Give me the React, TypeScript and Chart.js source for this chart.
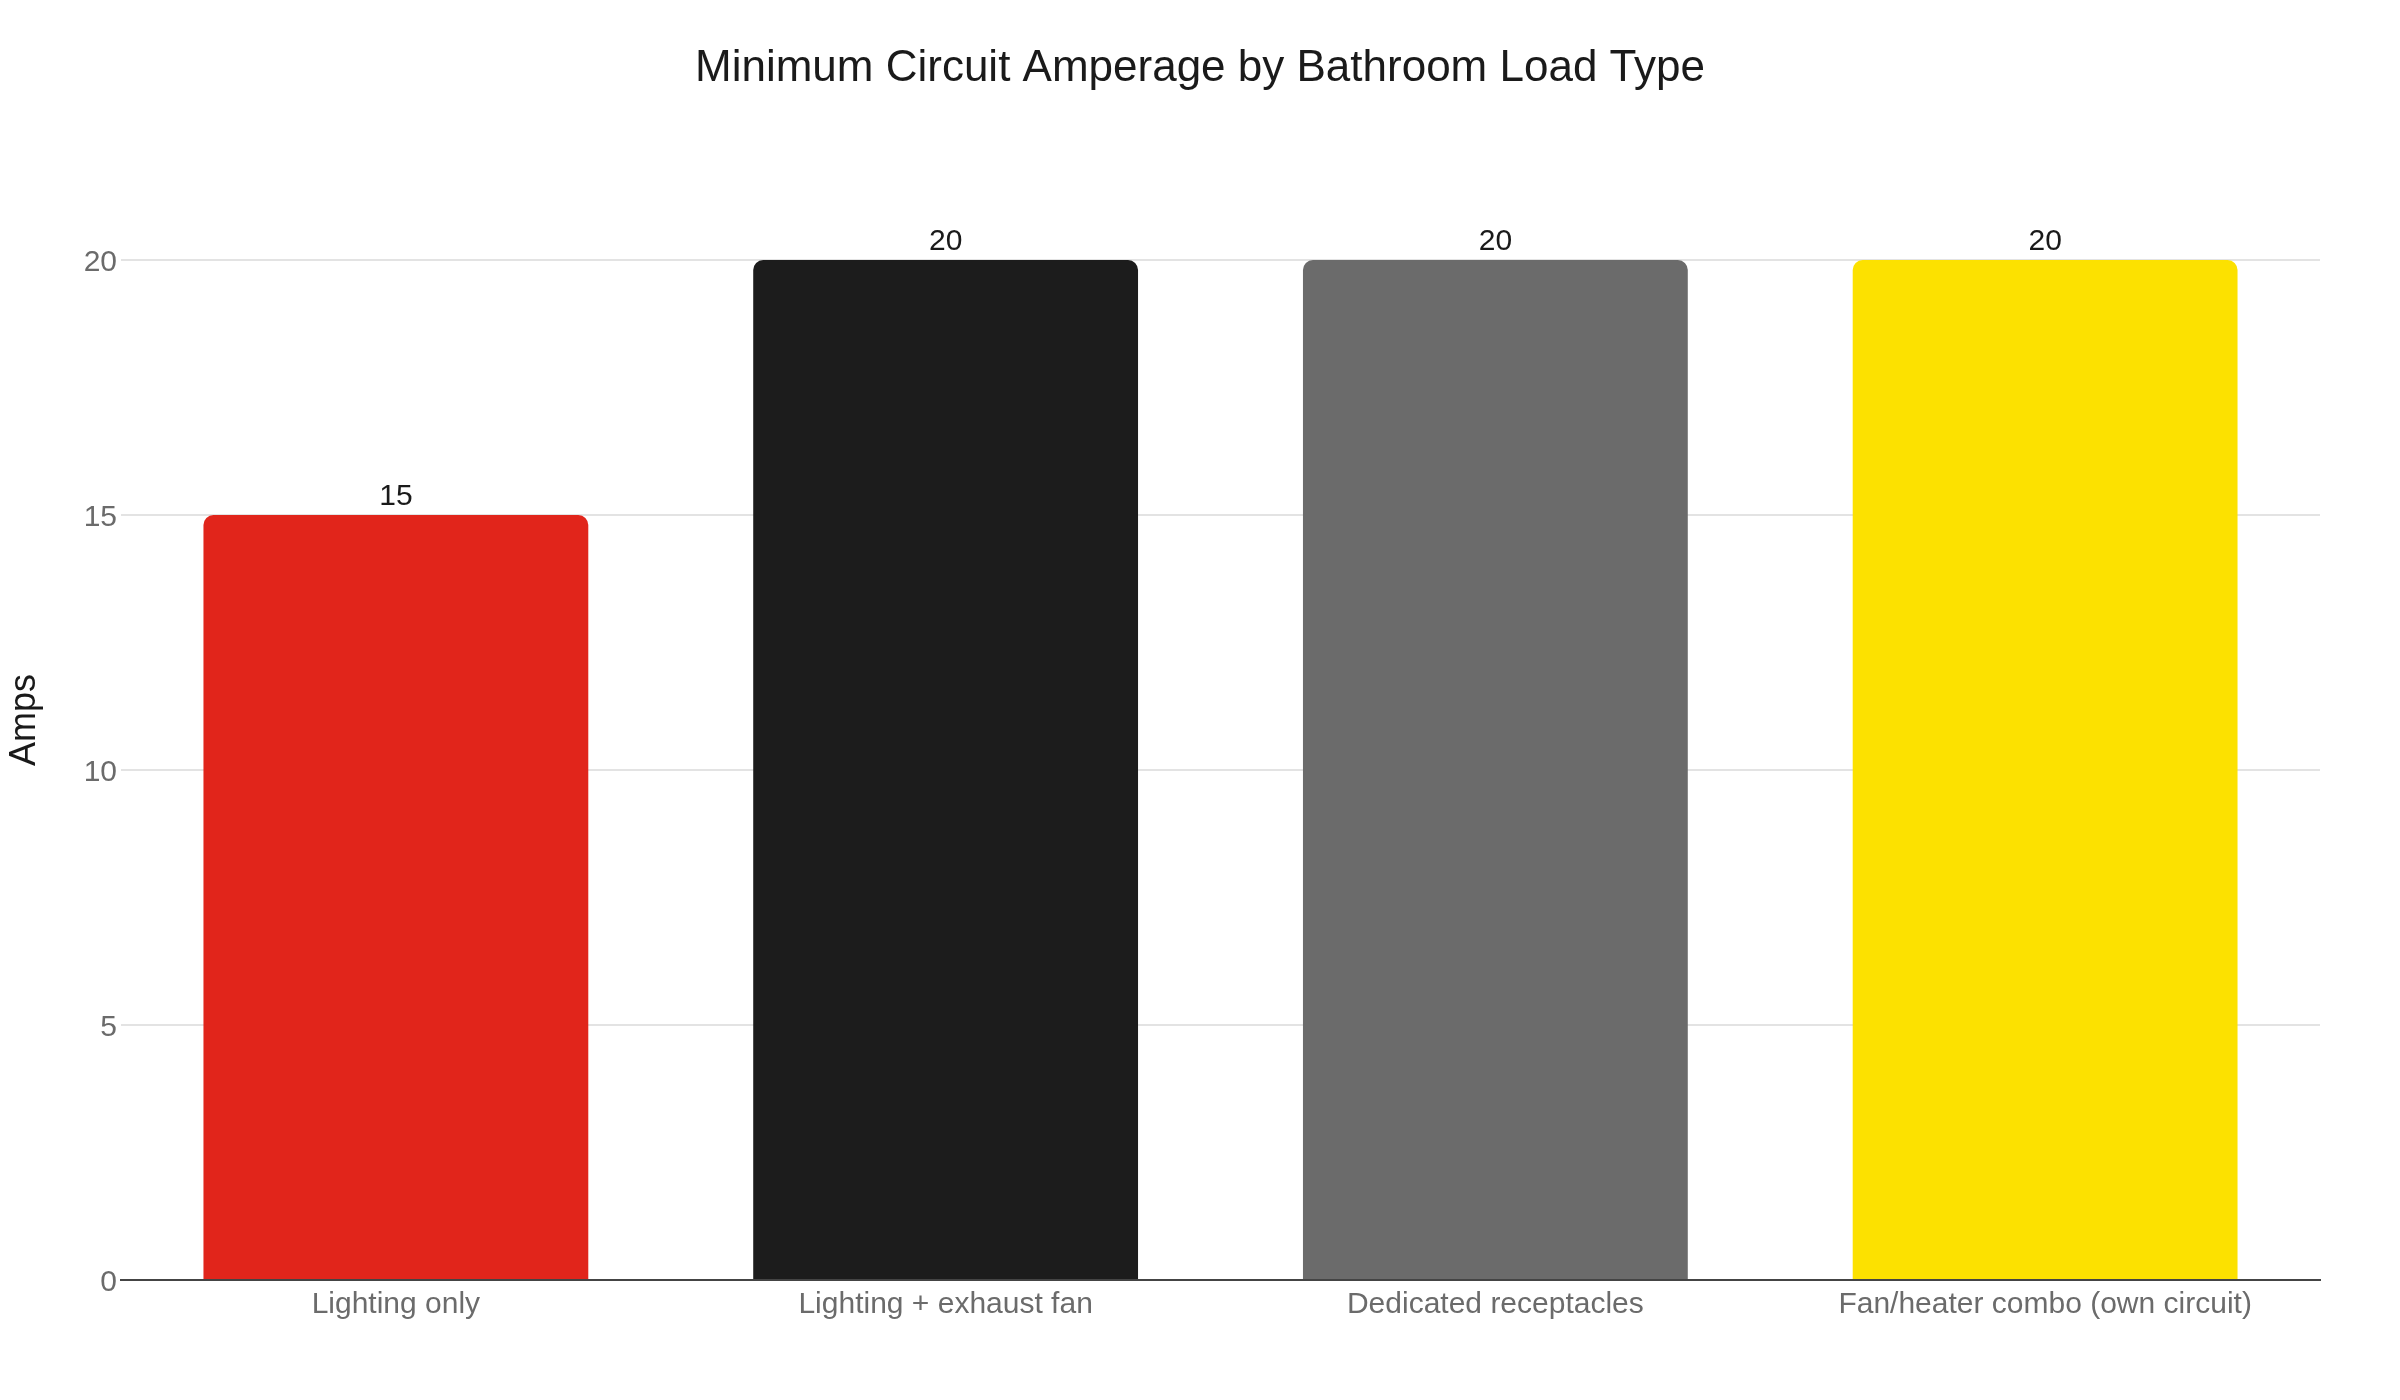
import React, { useEffect, useRef } from "react";
import { Chart, registerables } from "chart.js";

Chart.register(...registerables);

const categories = [
  "Lighting only",
  "Lighting + exhaust fan",
  "Dedicated receptacles",
  "Fan/heater combo (own circuit)",
];
const amps = [15, 20, 20, 20];
const barColors = ["#e1251b", "#1c1c1c", "#6b6b6b", "#fce100"];

const FONT = "'Liberation Sans', Arial, Helvetica, sans-serif";
const TITLE = "Minimum Circuit Amperage by Bathroom Load Type";
const Y_TITLE = "Amps";

// draws the value labels above the bars, the chart title and the y axis title
const textPlugin = {
  id: "textPlugin",
  afterDatasetsDraw(chart: Chart) {
    const { ctx } = chart;
    const meta = chart.getDatasetMeta(0);
    ctx.save();
    ctx.fillStyle = "#1a1a1a";
    ctx.textAlign = "center";
    ctx.textBaseline = "alphabetic";

    ctx.font = `30px ${FONT}`;
    meta.data.forEach((bar: any, i: number) => {
      ctx.fillText(String(amps[i]), bar.x, bar.y - 10);
    });

    ctx.font = `44px ${FONT}`;
    ctx.fillText(TITLE, chart.width / 2, 81);

    ctx.translate(35, 720);
    ctx.rotate(-Math.PI / 2);
    ctx.font = `36px ${FONT}`;
    ctx.fillText(Y_TITLE, 0, 0);
    ctx.restore();
  },
};

export default function App() {
  const canvasRef = useRef<HTMLCanvasElement>(null);

  useEffect(() => {
    document.body.style.margin = "0";
    if (!canvasRef.current) return;

    const chart = new Chart(canvasRef.current, {
      type: "bar",
      data: {
        labels: categories,
        datasets: [
          {
            label: "Amps",
            data: amps,
            backgroundColor: barColors,
            borderWidth: 0,
            borderRadius: 10,
            borderSkipped: "start",
            categoryPercentage: 0.7,
            barPercentage: 1,
          },
        ],
      },
      options: {
        responsive: true,
        maintainAspectRatio: false,
        animation: false,
        layout: { padding: { top: 260, right: 80, bottom: 0, left: 0 } },
        plugins: {
          legend: { display: false },
          title: { display: false },
          tooltip: { enabled: false },
        },
        scales: {
          x: {
            grid: { display: false, drawTicks: false },
            border: { display: true, color: "#444444", width: 2 },
            ticks: {
              color: "#6b6b6b",
              padding: 7,
              maxRotation: 0,
              minRotation: 0,
              font: { family: FONT, size: 30 },
            },
            afterFit: (scale: any) => {
              scale.height = 120;
            },
          },
          y: {
            min: 0,
            max: 20,
            ticks: {
              stepSize: 5,
              color: "#6b6b6b",
              padding: 4,
              labelOffset: 3,
              font: { family: FONT, size: 30 },
            },
            grid: {
              drawTicks: false,
              lineWidth: 2,
              color: (c: any) => (c.tick && c.tick.value === 0 ? "rgba(0,0,0,0)" : "#e3e3e3"),
            },
            border: { display: false },
            afterFit: (scale: any) => {
              scale.width = 121;
            },
          },
        },
      },
      plugins: [textPlugin],
    });

    return () => chart.destroy();
  }, []);

  return (
    <div style={{ width: 2400, height: 1400, background: "#ffffff" }}>
      <canvas ref={canvasRef} />
    </div>
  );
}
